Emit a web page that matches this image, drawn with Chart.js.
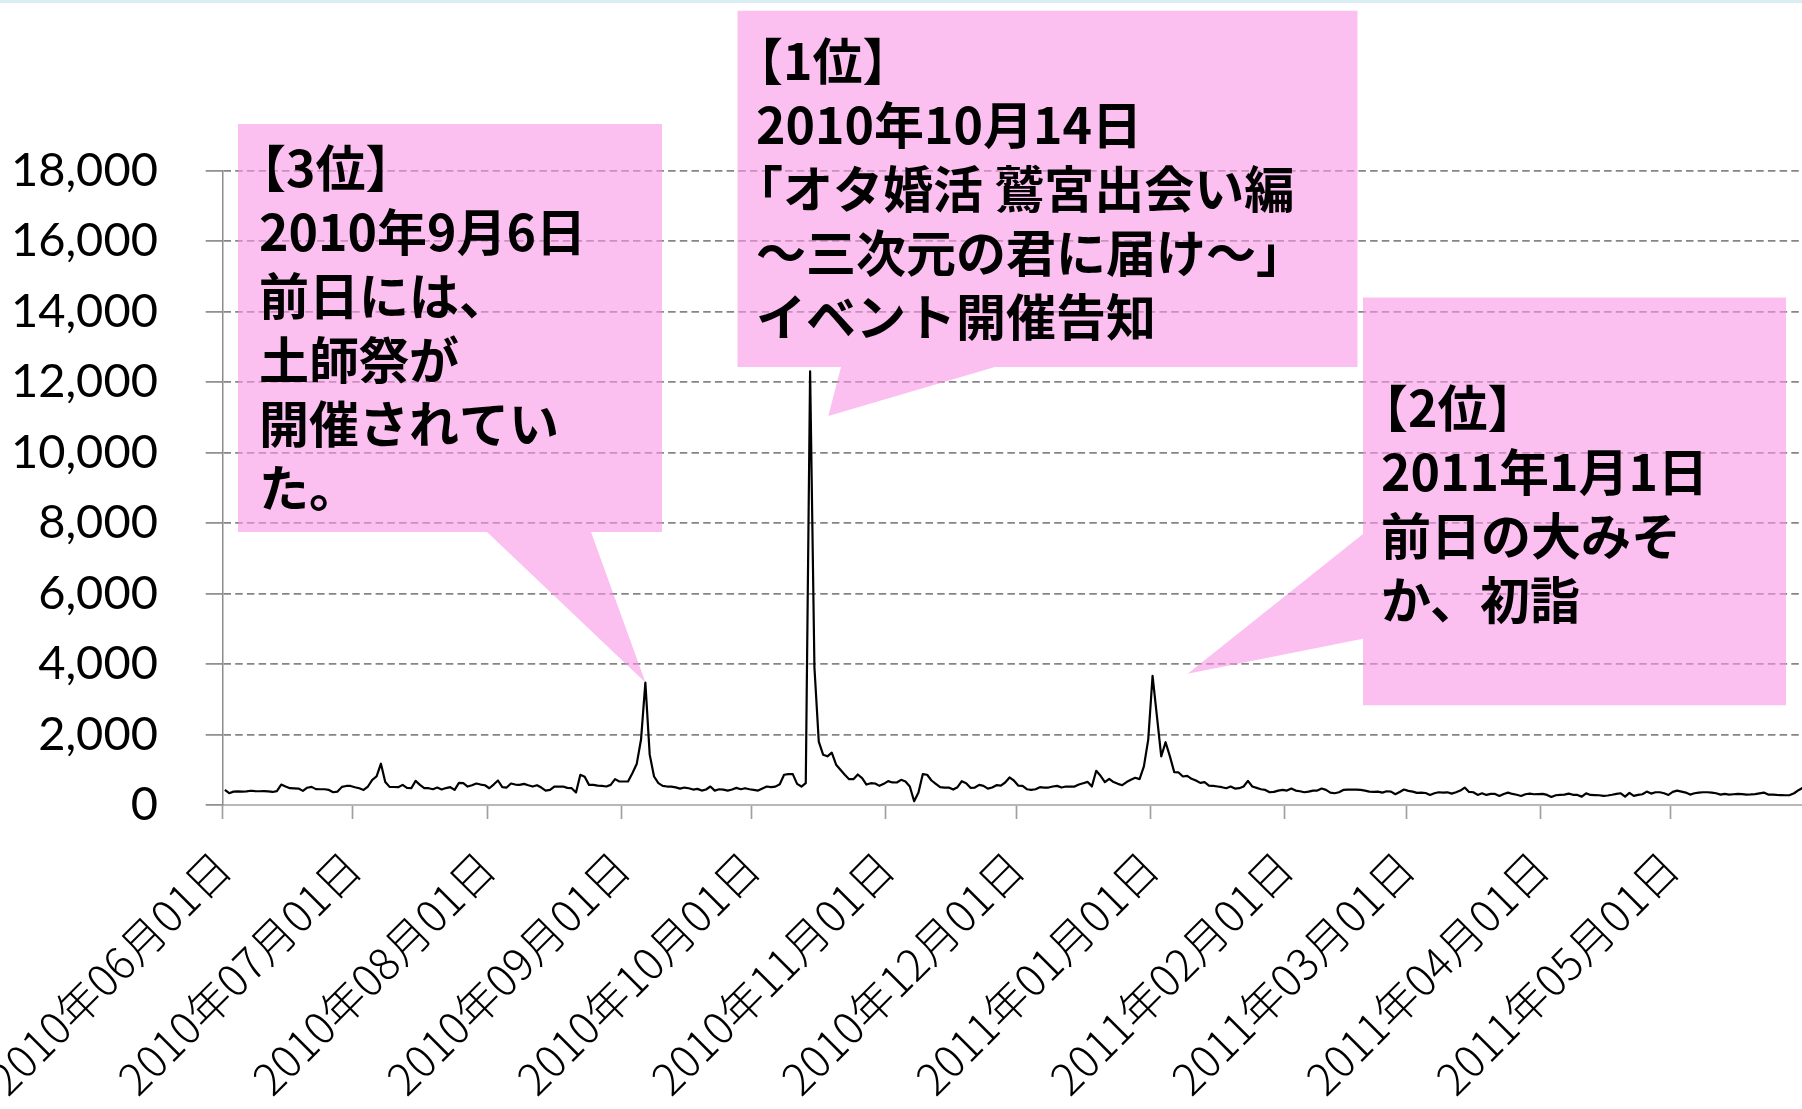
<!DOCTYPE html>
<html lang="ja">
<head>
<meta charset="utf-8">
<title>日別アクセス数</title>
<script src="https://cdn.jsdelivr.net/npm/chart.js@4.4.1/dist/chart.umd.min.js"></script>
<style>
  html, body { margin: 0; padding: 0; background: #fff; }
  #wrap { width: 1802px; height: 1109px; overflow: hidden; position: relative; }
  #topline { position: absolute; left: 0; top: 0; width: 1802px; height: 3px; background: #dbeef4; }
  canvas { display: block; }
</style>
</head>
<body>
<div id="wrap">
  <canvas id="chart" width="1805" height="1109"></canvas>
  <div id="topline"></div>
</div>
<script>
// daily counts, one array per month
const jun2010 = [428,335,380,385,380,385,405,395,390,395,385,370,395,580,525,476,470,466,400,490,514,450,447,447,428,362,380,514,540,540];
const jul2010 = [505,476,428,524,714,809,1171,650,514,510,505,571,486,476,685,571,476,476,447,495,440,480,505,428,628,619,524,560,609,580,560];
const aug2010 = [476,580,695,505,495,609,580,571,600,560,524,562,495,409,428,524,524,524,486,476,352,857,800,571,571,550,540,524,571,733,666];
const sep2010 = [666,666,900,1161,1856,3475,1428,809,619,543,524,520,500,466,495,476,438,457,409,440,524,409,447,438,409,440,486,447,476,447];
const oct2010 = [430,409,470,524,505,520,590,857,876,876,600,524,619,12300,3900,1800,1428,1380,1485,1142,1000,857,733,733,866,762,580,619,610,543,600];
const nov2010 = [676,640,638,714,666,524,105,352,876,857,695,600,505,495,495,438,505,676,619,486,495,571,543,466,495,562,552,638,781,695];
const dec2010 = [552,543,447,428,447,505,495,495,524,543,495,524,524,524,581,619,657,524,971,828,647,743,650,600,562,650,714,771,733,1095,1856];
const jan2011 = [3665,2520,1380,1780,1380,933,923,809,828,743,695,628,647,552,543,524,505,476,524,466,476,524,685,524,486,447,428,362,371,409,428];
const feb2011 = [409,466,409,390,362,381,409,409,466,428,352,333,362,428,438,438,438,430,409,380,371,381,352,390,380,305,371,438];
const mar2011 = [400,380,343,352,340,286,333,362,352,360,324,362,410,495,371,362,286,333,286,314,314,257,314,352,314,290,257,305,324,305,310];
const apr2011 = [314,286,228,276,286,295,324,290,286,238,333,286,280,276,257,270,290,314,333,238,343,257,286,305,381,324,362,362,333,286];
const may2011 = [371,409,381,352,295,333,352,362,362,350,333,295,314,295,305,314,310,295,300,310,330,352,295,295,286,280,276,282,333,420,490];

const months = [jun2010, jul2010, aug2010, sep2010, oct2010, nov2010,
                dec2010, jan2011, feb2011, mar2011, apr2011, may2011];

// one tick at the first day of each month
const tickLabels = ['2010年06月01日','2010年07月01日','2010年08月01日','2010年09月01日',
                    '2010年10月01日','2010年11月01日','2010年12月01日','2011年01月01日',
                    '2011年02月01日','2011年03月01日','2011年04月01日','2011年05月01日'];

// y axis
const yMax = 18000;
const yStep = 2000;

// the three call-outs
const callouts = [
  {
    shape: [[238,124],[662,124],[662,532],[591,532],[645.5,682.5],[487,532],[238,532]],
    x: 259, y: 168,
    lines: ['【3位】', '2010年9月6日', '前日には、', '土師祭が', '開催されてい', 'た。']
  },
  {
    shape: [[737.5,10.7],[1357.5,10.7],[1357.5,367],[995,367],[828.3,416],[841,367],[737.5,367]],
    x: 756, y: 61,
    lines: ['【1位】', '2010年10月14日', '「オタ婚活 鷲宮出会い編', '～三次元の君に届け～」', 'イベント開催告知']
  },
  {
    shape: [[1363,297.5],[1786,297.5],[1786,705.3],[1363,705.3],[1363,638.8],[1187.6,673.8],[1363,534]],
    x: 1381, y: 408,
    lines: ['【2位】', '2011年1月1日', '前日の大みそ', 'か、初詣']
  }
];

// build the day index and month starts
let values = [];
let monthStarts = [];
for (let m of months) {
  monthStarts.push(values.length);
  values = values.concat(m);
}
// each day sits in the middle of its own slot
let points = values.map((v, i) => ({ x: i + 0.5, y: v }));

const calloutPlugin = {
  id: 'callouts',
  afterDraw(chart) {
    const ctx = chart.ctx;
    ctx.save();
    for (let c of callouts) {
      ctx.beginPath();
      c.shape.forEach(([x, y], i) => i ? ctx.lineTo(x, y) : ctx.moveTo(x, y));
      ctx.closePath();
      ctx.fillStyle = 'rgba(248, 150, 230, 0.6)';
      ctx.fill();

      ctx.fillStyle = '#000';
      ctx.font = 'bold 50px "Noto Sans CJK JP"';
      ctx.textBaseline = 'middle';
      ctx.textAlign = 'left';
      c.lines.forEach((t, i) => {
        // opening brackets have a wide left side in this font
        let shift = /^[【「]/.test(t) ? -23 : 0;
        ctx.fillText(t, c.x + shift, c.y + i * 64);
      });
    }
    ctx.restore();
  }
};

let chart = new Chart(document.getElementById('chart'), {
  type: 'line',
  data: {
    datasets: [{
      data: points,
      borderColor: '#000',
      borderWidth: 2.2,
      borderJoinStyle: 'round',
      pointRadius: 0,
      tension: 0,
      fill: false
    }]
  },
  options: {
    responsive: false,
    animation: false,
    devicePixelRatio: 1,
    events: [],
    layout: { padding: { top: 170.4, left: 0, right: 0, bottom: 0 } },
    plugins: {
      legend: { display: false },
      tooltip: { enabled: false }
    },
    scales: {
      x: {
        type: 'linear',
        min: 0,
        max: values.length,
        afterBuildTicks: (scale) => {
          scale.ticks = monthStarts.map(v => ({ value: v }));
        },
        afterFit: (scale) => {
          scale.height = 304;
          scale.paddingLeft = 0;
          scale.paddingRight = 0;
        },
        grid: {
          drawOnChartArea: false,
          drawTicks: true,
          tickLength: 14,
          tickColor: '#a0a0a0',
          tickWidth: 1.7
        },
        border: { display: true, color: '#b8b8b8', width: 2 },
        ticks: {
          autoSkip: false,
          minRotation: 45,
          maxRotation: 45,
          padding: 22,
          color: '#000',
          font: { family: '"Noto Sans CJK JP"', size: 44, weight: 300 },
          callback: (value, index) => tickLabels[index]
        }
      },
      y: {
        min: 0,
        max: yMax,
        afterFit: (scale) => { scale.width = 222.7; },
        grid: {
          color: (c) => c.tick && c.tick.value === 0 ? 'rgba(0,0,0,0)' : '#858585',
          lineWidth: 1.8,
          tickLength: 17,
          tickColor: '#8c8c8c',
          tickWidth: 1.7,
          tickBorderDash: []
        },
        border: { display: true, color: '#8c8c8c', width: 1.5, dash: [7.5, 4.2] },
        ticks: {
          stepSize: yStep,
          padding: 47.8,
          color: '#000',
          font: { family: 'Lato', size: 47 },
          callback: (v) => v.toLocaleString('en-US')
        }
      }
    }
  },
  plugins: [calloutPlugin]
});
</script>
</body>
</html>
